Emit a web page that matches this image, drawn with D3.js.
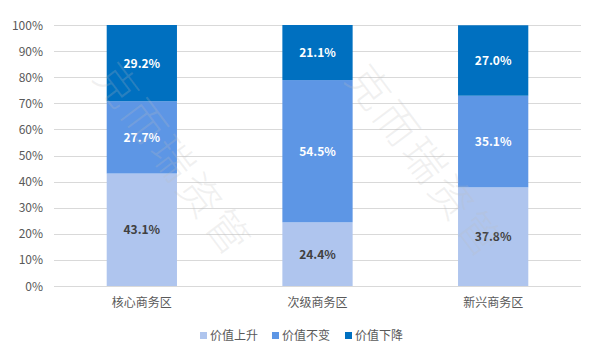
<!DOCTYPE html>
<html>
<head>
<meta charset="utf-8">
<script src="https://cdn.jsdelivr.net/npm/d3@7"></script>
<style>
  html, body { margin: 0; padding: 0; background: #fff; }
  svg { display: block; font-family: "Microsoft YaHei", "Noto Sans CJK SC", "DejaVu Sans", sans-serif; }
</style>
</head>
<body>
<svg id="chart" width="593" height="350"></svg>
<script>
// Categories and series (percent shares per district)
const categories = ["核心商务区", "次级商务区", "新兴商务区"];
const seriesNames = ["价值上升", "价值不变", "价值下降"];
const rising = [43.1, 24.4, 37.8];
const unchanged = [27.7, 54.5, 35.1];
const falling = [29.2, 21.1, 27.0];
const yTicks = [0, 10, 20, 30, 40, 50, 60, 70, 80, 90, 100];
const watermark = "克而瑞资管";

const colors = ["#afc5ee", "#5d96e5", "#0070c0"];
const labelColors = ["#404040", "#ffffff", "#ffffff"];

const rows = categories.map((c, i) => ({
  cat: c,
  "价值上升": rising[i],
  "价值不变": unchanged[i],
  "价值下降": falling[i]
}));

const svg = d3.select("#chart");
const margin = { left: 54, right: 12, top: 25, bottom: 64 };
const W = 593, H = 350;
const x = d3.scaleBand().domain(categories).range([margin.left, W - margin.right]).paddingInner(0.6).paddingOuter(0.3);
const y = d3.scaleLinear().domain([0, 100]).range([H - margin.bottom, margin.top]);

// Gridlines
svg.append("g")
  .selectAll("line")
  .data(yTicks)
  .join("line")
  .attr("x1", margin.left)
  .attr("x2", W - margin.right)
  .attr("y1", d => Math.round(y(d)) + 0.5)
  .attr("y2", d => Math.round(y(d)) + 0.5)
  .attr("stroke", "#d9d9d9")
  .attr("stroke-width", 1);

// Y tick labels
svg.append("g")
  .selectAll("text")
  .data(yTicks)
  .join("text")
  .attr("x", 43)
  .attr("y", d => y(d) + 4.5)
  .attr("text-anchor", "end")
  .attr("font-size", 12)
  .attr("fill", "#595959")
  .text(d => d + "%");

// Stacked bars
const stack = d3.stack().keys(seriesNames);
const layers = stack(rows);

const gLayers = svg.append("g")
  .selectAll("g")
  .data(layers)
  .join("g")
  .attr("fill", (d, i) => colors[i]);

gLayers.selectAll("rect")
  .data(d => d)
  .join("rect")
  .attr("x", d => x(d.data.cat))
  .attr("width", x.bandwidth())
  .attr("y", d => y(d[1]))
  .attr("height", d => y(d[0]) - y(d[1]));

// Value labels
svg.append("g")
  .selectAll("g")
  .data(layers)
  .join("g")
  .attr("fill", (d, i) => labelColors[i])
  .selectAll("text")
  .data(d => d.map(p => ({ p, key: d.key })))
  .join("text")
  .attr("x", d => x(d.p.data.cat) + x.bandwidth() / 2)
  .attr("y", d => (y(d.p[0]) + y(d.p[1])) / 2 + 4.5)
  .attr("text-anchor", "middle")
  .attr("font-size", 12)
  .attr("font-weight", "bold")
  .text(d => d.p.data[d.key].toFixed(1) + "%");

// Category labels
svg.append("g")
  .selectAll("text")
  .data(categories)
  .join("text")
  .attr("x", d => x(d) + x.bandwidth() / 2)
  .attr("y", 307)
  .attr("text-anchor", "middle")
  .attr("font-size", 12)
  .attr("fill", "#595959")
  .text(d => d);

// Legend
const legendX = [200, 272, 345];
const legend = svg.append("g")
  .selectAll("g")
  .data(seriesNames)
  .join("g")
  .attr("transform", (d, i) => `translate(${legendX[i]},332)`);
legend.append("rect")
  .attr("width", 7).attr("height", 7)
  .attr("fill", (d, i) => colors[i]);
legend.append("text")
  .attr("x", 10).attr("y", 8)
  .attr("font-size", 12)
  .attr("fill", "#595959")
  .text(d => d);

// Faint diagonal watermark
const wm = svg.append("g").attr("pointer-events", "none");
[[176, 158], [428, 160]].forEach(([cx, cy]) => {
  wm.append("text")
    .attr("transform", `translate(${cx},${cy}) rotate(53)`)
    .attr("text-anchor", "middle")
    .attr("dominant-baseline", "central")
    .attr("font-size", 42)
    .attr("font-weight", 300)
    .attr("letter-spacing", 4)
    .attr("fill", "#bdbdbd")
    .attr("fill-opacity", 0.22)
    .text(watermark);
});
</script>
</body>
</html>
